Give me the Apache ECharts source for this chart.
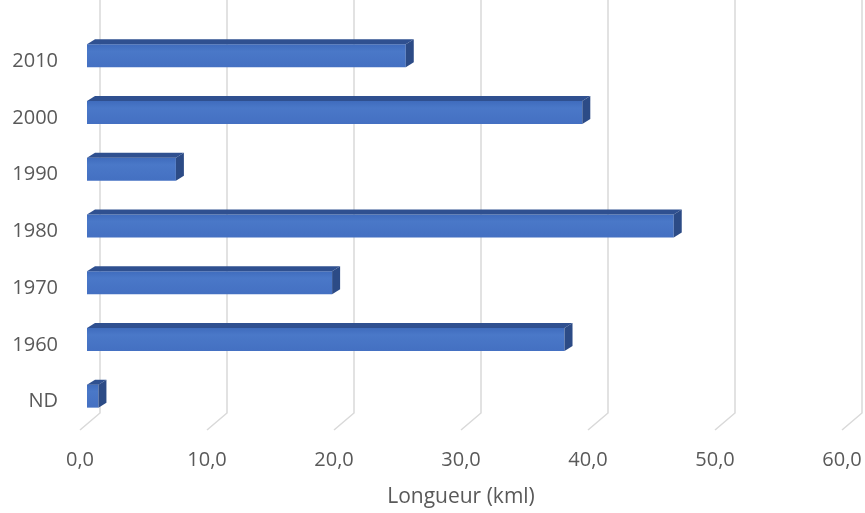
<!DOCTYPE html>
<html>
<head>
<meta charset="utf-8">
<script src="https://cdn.jsdelivr.net/npm/echarts@6/dist/echarts.min.js"></script>
<style>
  html, body { margin: 0; padding: 0; background: #fff; }
  #chart { width: 865px; height: 513px; }
</style>
</head>
<body>
<div id="chart"></div>
<script>
// décennies (de bas en haut) et longueurs en km
const decades = ["ND", "1960", "1970", "1980", "1990", "2000", "2010"];
const lengths = [0.9, 37.6, 19.3, 46.2, 7.0, 39.0, 25.1];
const ticks = [0, 10, 20, 30, 40, 50, 60];

const chart = echarts.init(document.getElementById("chart"));

// quadrillage en "3D" : mur du fond + diagonale vers le sol
const renderGrid = (params, api) => {
  const cs = params.coordSys;
  const x = api.coord([api.value(0), 0])[0];
  const bottom = cs.y + cs.height;
  return {
    type: "polyline",
    shape: {
      points: [
        [x + 20, 0],
        [x + 20, bottom - 17],
        [x, bottom],
      ],
    },
    style: { stroke: "#d9d9d9", lineWidth: 1.5, fill: null },
  };
};

// barre 3D : face avant, dessus, côté droit
const renderBar = (params, api) => {
  const start = api.coord([0, api.value(1)]);
  const end = api.coord([api.value(0), api.value(1)]);
  const x0 = start[0] + 7;
  const x1 = end[0] + 7;
  const yTop = end[1] - 17;
  const yBot = end[1] + 6;
  const dx = 8;
  const dy = 5;
  return {
    type: "group",
    children: [
      {
        type: "rect",
        shape: { x: x0, y: yTop, width: x1 - x0, height: yBot - yTop },
        style: {
          fill: new echarts.graphic.LinearGradient(0, 0, 0, 1, [
            { offset: 0, color: "#3f6cbd" },
            { offset: 0.3, color: "#4a78c8" },
            { offset: 1, color: "#4470c2" },
          ]),
        },
      },
      {
        type: "polygon",
        shape: { points: [[x0, yTop], [x0 + dx, yTop - dy], [x1 + dx, yTop - dy], [x1, yTop]] },
        style: { fill: "#2f5090" },
      },
      {
        type: "polygon",
        shape: { points: [[x1, yTop], [x1 + dx, yTop - dy], [x1 + dx, yBot - dy], [x1, yBot]] },
        style: { fill: "#2c4b86" },
      },
    ],
  };
};

const option = {
  animation: false,
  textStyle: { fontFamily: "Open Sans" },
  grid: { left: 80, right: 23, top: 33, bottom: 81 },
  xAxis: {
    type: "value",
    min: 0,
    max: 60,
    interval: 10,
    axisLine: { show: false },
    axisTick: { show: false },
    splitLine: { show: false },
    axisLabel: {
      color: "#595959",
      fontSize: 20,
      margin: 20,
      formatter: (v) => v.toFixed(1).replace(".", ","),
    },
    name: "Longueur (kml)",
    nameLocation: "middle",
    nameGap: 57,
    nameTextStyle: { color: "#595959", fontSize: 21 },
  },
  yAxis: {
    type: "category",
    data: decades,
    axisLine: { show: false },
    axisTick: { show: false },
    axisLabel: { color: "#595959", fontSize: 20, margin: 22 },
  },
  series: [
    {
      type: "custom",
      silent: true,
      renderItem: renderGrid,
      data: ticks.map((t) => [t]),
      z: 1,
    },
    {
      type: "custom",
      renderItem: renderBar,
      encode: { x: 0, y: 1 },
      data: lengths.map((v, i) => [v, i]),
      z: 2,
    },
  ],
};

chart.setOption(option);
</script>
</body>
</html>
